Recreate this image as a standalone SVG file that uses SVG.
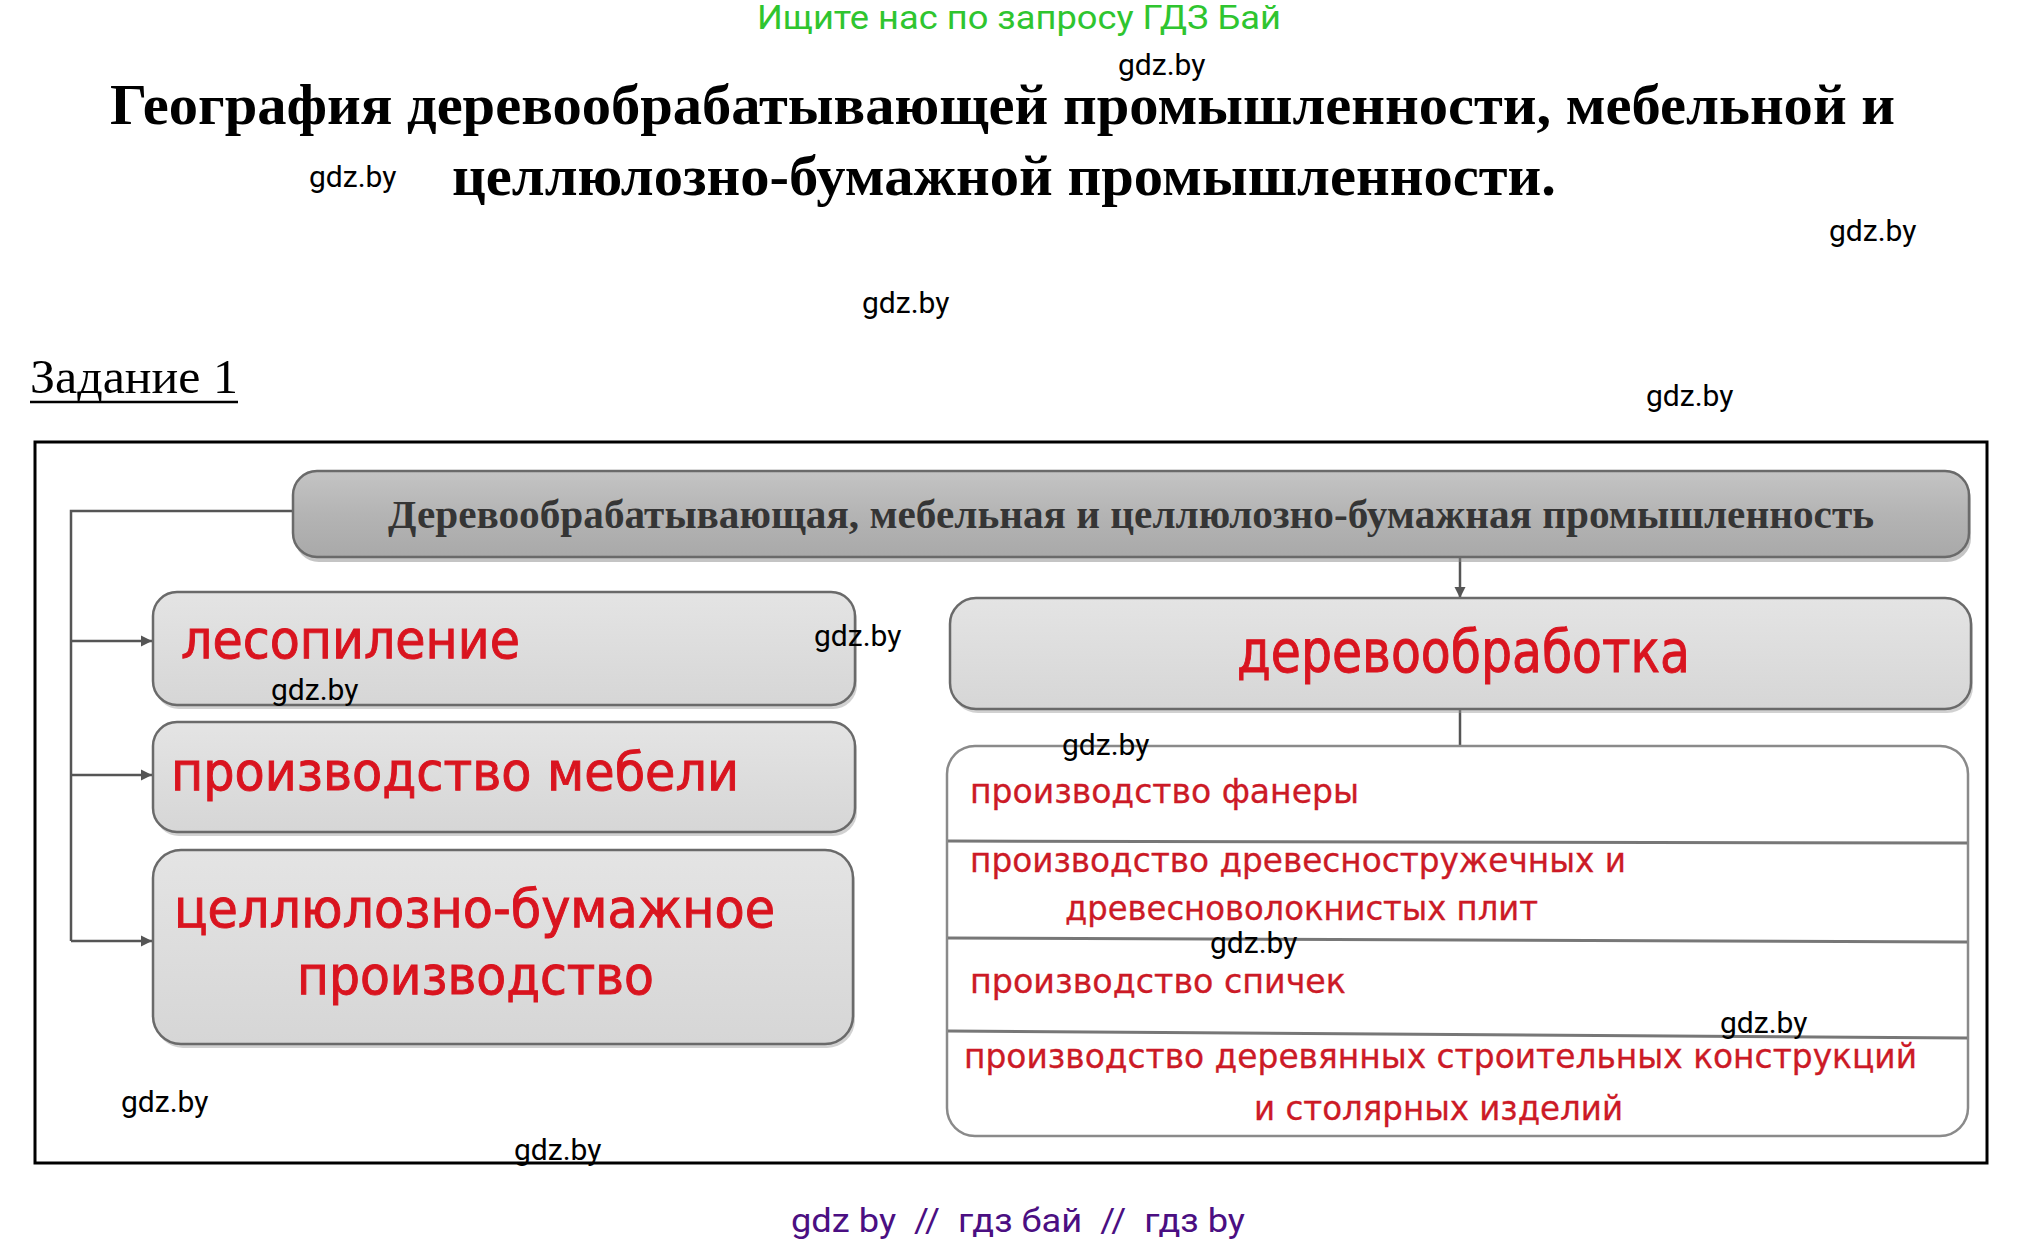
<svg xmlns="http://www.w3.org/2000/svg" width="2038" height="1242" viewBox="0 0 2038 1242">
<defs>
<style>
.wm{font-family:Roboto,"Liberation Sans",sans-serif;font-size:30px;fill:#000}
.title{font-family:"Liberation Serif",serif;font-weight:bold;font-size:58px;fill:#000}
.red{font-family:"DejaVu Sans",sans-serif;font-stretch:condensed;fill:#d9141f}
.big{font-size:54px;stroke:#d9141f;stroke-width:0.9}
.mid{font-size:58px;stroke:#d9141f;stroke-width:0.9}
.item{font-size:34px;fill:#cc1a26;stroke:#cc1a26;stroke-width:0.3}
.box{stroke:#6a6a6a;stroke-width:2.5}
.conn{stroke:#555;stroke-width:2.5;fill:none}
.div{stroke:#777;stroke-width:3}
</style>
<linearGradient id="gHead" x1="0" y1="0" x2="0" y2="1">
<stop offset="0" stop-color="#c4c4c4"/>
<stop offset="0.5" stop-color="#b4b4b4"/>
<stop offset="1" stop-color="#a9a9a9"/>
</linearGradient>
<linearGradient id="gBox" x1="0" y1="0" x2="0" y2="1">
<stop offset="0" stop-color="#e4e4e4"/>
<stop offset="1" stop-color="#d6d6d6"/>
</linearGradient>
<marker id="arr" viewBox="0 0 10 10" refX="10" refY="5" markerWidth="4.5" markerHeight="4.5" orient="auto">
<path d="M0,0 L10,5 L0,10 z" fill="#555"/>
</marker>
</defs>
<rect x="0" y="0" width="2038" height="1242" fill="#fff"/>

<text x="1019" y="29" text-anchor="middle" font-family="Roboto,'Liberation Sans',sans-serif" font-size="33" fill="#2fc52f" textLength="524" lengthAdjust="spacingAndGlyphs">Ищите нас по запросу ГДЗ Бай</text>

<text class="title" x="110" y="124" textLength="1785" lengthAdjust="spacingAndGlyphs">География деревообрабатывающей промышленности, мебельной и</text>
<text class="title" x="452" y="195" textLength="1104" lengthAdjust="spacingAndGlyphs">целлюлозно-бумажной промышленности.</text>

<text x="30" y="393" font-family="'Liberation Serif',serif" font-size="48" fill="#000" textLength="208" lengthAdjust="spacingAndGlyphs">Задание 1</text>
<line x1="30" y1="402" x2="238" y2="402" stroke="#000" stroke-width="2.5"/>

<rect x="35" y="442" width="1952" height="721" fill="#fff" stroke="#000" stroke-width="3"/>

<g id="connectors">
<polyline class="conn" points="292,511 71,511 71,941"/>
<line class="conn" x1="71" y1="641" x2="152" y2="641" marker-end="url(#arr)"/>
<line class="conn" x1="71" y1="775" x2="152" y2="775" marker-end="url(#arr)"/>
<line class="conn" x1="71" y1="941" x2="152" y2="941" marker-end="url(#arr)"/>
<line class="conn" x1="1460" y1="557" x2="1460" y2="598" marker-end="url(#arr)"/>
<line class="conn" x1="1460" y1="708" x2="1460" y2="746"/>
</g>

<g id="header">
<rect x="293" y="472" width="1676" height="87" rx="24" fill="#8a8a8a" opacity="0.5" transform="translate(2,3)"/>
<rect class="box" x="293" y="471" width="1676" height="86" rx="24" fill="url(#gHead)"/>
<text x="388" y="528" font-family="'Liberation Serif',serif" font-weight="bold" font-size="40" fill="#353535" textLength="1486" lengthAdjust="spacingAndGlyphs">Деревообрабатывающая, мебельная и целлюлозно-бумажная промышленность</text>
</g>

<g id="node-lesopilenie">
<rect x="153" y="593" width="702" height="113" rx="24" fill="#999" opacity="0.45" transform="translate(2,3)"/>
<rect class="box" x="153" y="592" width="702" height="113" rx="24" fill="url(#gBox)"/>
<text class="red big" x="181" y="658" textLength="339" lengthAdjust="spacingAndGlyphs">лесопиление</text>
</g>

<g id="node-mebel">
<rect x="153" y="723" width="702" height="110" rx="24" fill="#999" opacity="0.45" transform="translate(2,3)"/>
<rect class="box" x="153" y="722" width="702" height="110" rx="24" fill="url(#gBox)"/>
<text class="red big" x="171" y="790" textLength="568" lengthAdjust="spacingAndGlyphs">производство мебели</text>
</g>

<g id="node-cellulose">
<rect x="153" y="851" width="700" height="194" rx="28" fill="#999" opacity="0.45" transform="translate(2,3)"/>
<rect class="box" x="153" y="850" width="700" height="194" rx="28" fill="url(#gBox)"/>
<text class="red big" x="174" y="927" textLength="601" lengthAdjust="spacingAndGlyphs">целлюлозно-бумажное</text>
<text class="red big" x="297" y="994" textLength="357" lengthAdjust="spacingAndGlyphs">производство</text>
</g>

<g id="node-derevoobrabotka">
<rect x="950" y="599" width="1021" height="111" rx="26" fill="#999" opacity="0.45" transform="translate(2,3)"/>
<rect class="box" x="950" y="598" width="1021" height="111" rx="26" fill="url(#gBox)"/>
<text class="red mid" x="1237" y="672" textLength="453" lengthAdjust="spacingAndGlyphs">деревообработка</text>
</g>

<g id="node-list">
<rect x="947" y="746" width="1021" height="390" rx="28" fill="#fff" stroke="#8a8a8a" stroke-width="2.5"/>
<line class="div" x1="948" y1="841" x2="1967" y2="843"/>
<line class="div" x1="948" y1="938" x2="1967" y2="942"/>
<line class="div" x1="948" y1="1031" x2="1967" y2="1038"/>
<text class="red item" x="970" y="803" textLength="389" lengthAdjust="spacingAndGlyphs">производство фанеры</text>
<text class="red item" x="970" y="872" textLength="656" lengthAdjust="spacingAndGlyphs">производство древесностружечных и</text>
<text class="red item" x="1065" y="920" textLength="473" lengthAdjust="spacingAndGlyphs">древесноволокнистых плит</text>
<text class="red item" x="970" y="993" textLength="376" lengthAdjust="spacingAndGlyphs">производство спичек</text>
<text class="red item" x="964" y="1068" textLength="953" lengthAdjust="spacingAndGlyphs">производство деревянных строительных конструкций</text>
<text class="red item" x="1254" y="1120" textLength="369" lengthAdjust="spacingAndGlyphs">и столярных изделий</text>
</g>

<g id="watermarks">
<text class="wm" x="1118" y="75">gdz.by</text>
<text class="wm" x="309" y="187">gdz.by</text>
<text class="wm" x="1829" y="241">gdz.by</text>
<text class="wm" x="862" y="313">gdz.by</text>
<text class="wm" x="1646" y="406">gdz.by</text>
<text class="wm" x="814" y="646">gdz.by</text>
<text class="wm" x="271" y="700">gdz.by</text>
<text class="wm" x="1062" y="755">gdz.by</text>
<text class="wm" x="1210" y="953">gdz.by</text>
<text class="wm" x="1720" y="1033">gdz.by</text>
<text class="wm" x="121" y="1112">gdz.by</text>
<text class="wm" x="514" y="1160">gdz.by</text>
</g>

<text x="791" y="1232" font-family="Roboto,'Liberation Sans',sans-serif" font-size="34" fill="#4b0f82" xml:space="preserve" textLength="454" lengthAdjust="spacingAndGlyphs">gdz by  //  гдз бай  //  гдз by</text>
</svg>
